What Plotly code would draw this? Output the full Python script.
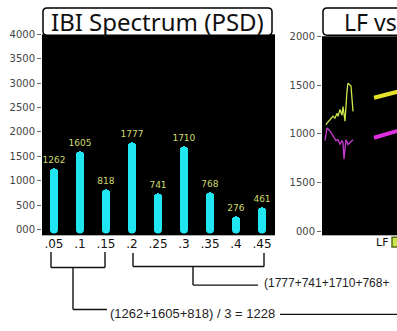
import plotly.graph_objects as go

# ---------------- data ----------------
bands = [".05", ".1", ".15", ".2", ".25", ".3", ".35", ".4", ".45"]
psd = [1262, 1605, 818, 1777, 741, 1710, 768, 276, 461]
left_tickvals = [0, 500, 1000, 1500, 2000, 2500, 3000, 3500, 4000]
left_ticktext = ["000", "500", "1000", "1500", "2000", "2500", "3000", "3500", "4000"]

lf_t = [4, 5, 11, 13, 15, 16, 18, 20, 21, 23, 25, 26, 29, 31]
lf_v = [1090, 1110, 1180, 1160, 1210, 1180, 1250, 1190, 1280, 1130, 1440, 1520, 1490, 1230]
hf_t = [3, 5, 8, 11, 14, 16, 18, 20, 21, 22, 24, 26, 30, 31]
hf_v = [930, 1060, 1030, 980, 930, 940, 890, 930, 910, 740, 940, 890, 930, 940]
lf_trend_t = [52, 76]
lf_trend_v = [1370, 1432]
hf_trend_t = [52, 76]
hf_trend_v = [960, 1032]
right_tickvals = [0, 500, 1000, 1500, 2000]
right_ticktext = ["000", "1500", "1000", "1500", "2000"]

low_text = "(1262+1605+818) / 3 = 1228"
high_text = "(1777+741+1710+768+"
right_title = "LF vs"

W, H = 397, 331


def px(x):
    return x / W


def py(y):
    return 1 - y / H


idx = list(range(len(bands)))

fig = go.Figure()
fig.add_trace(go.Bar(
    x=idx, y=psd, width=0.31,
    marker=dict(color="#1fe6f0", cornerradius=4, line=dict(width=0)),
    text=[str(v) for v in psd], textposition="outside", constraintext="none",
    textfont=dict(family="DejaVu Sans", size=9, color="#cfdc6e"),
    cliponaxis=False, xaxis="x", yaxis="y", showlegend=False,
))
fig.add_trace(go.Scatter(
    x=idx, y=[0] * len(idx), mode="markers",
    marker=dict(color="#1fe6f0", size=8, line=dict(width=0)),
    xaxis="x", yaxis="y", showlegend=False, hoverinfo="skip", cliponaxis=True,
))

fig.add_trace(go.Scatter(x=lf_t, y=lf_v, mode="lines", line=dict(color="#cde84a", width=1.3),
                         xaxis="x2", yaxis="y2", showlegend=False))
fig.add_trace(go.Scatter(x=hf_t, y=hf_v, mode="lines", line=dict(color="#c63ad0", width=1.3),
                         xaxis="x2", yaxis="y2", showlegend=False))
fig.add_trace(go.Scatter(x=lf_trend_t, y=lf_trend_v, mode="lines", line=dict(color="#e6e22a", width=4),
                         xaxis="x2", yaxis="y2", showlegend=False))
fig.add_trace(go.Scatter(x=hf_trend_t, y=hf_trend_v, mode="lines", line=dict(color="#dd2fdd", width=4),
                         xaxis="x2", yaxis="y2", showlegend=False))

tickfont = dict(family="DejaVu Sans", size=10, color="#444444")

fig.update_layout(
    width=W, height=H, margin=dict(l=0, r=0, t=0, b=0),
    paper_bgcolor="white", plot_bgcolor="black",
    bargap=0,
    xaxis=dict(domain=[px(42), px(275)], range=[-0.46, 8.5],
               tickvals=idx, ticktext=bands, ticks="", showgrid=False, zeroline=False,
               showline=False, tickfont=dict(family="DejaVu Sans", size=12, color="#111111"),
               anchor="y", fixedrange=True),
    yaxis=dict(domain=[py(235), py(29)], range=[-120, 4000],
               tickvals=left_tickvals, ticktext=left_ticktext, ticks="outside", ticklen=4,
               tickcolor="#666666", tickwidth=1, showgrid=False, zeroline=False, showline=False,
               tickfont=tickfont, anchor="x"),
    xaxis2=dict(domain=[px(322), 1], range=[0, 75], showticklabels=False, ticks="",
                showgrid=False, zeroline=False, showline=False, anchor="y2"),
    yaxis2=dict(domain=[py(235), py(31)], range=[-40, 2000],
                tickvals=right_tickvals, ticktext=right_ticktext, ticks="outside", ticklen=4,
                tickcolor="#666666", tickwidth=1, showgrid=False, zeroline=False, showline=False,
                tickfont=tickfont, anchor="x2"),
)


def rounded_box(x0, y0, x1, y1, r):
    pts = [
        ("M", x0 + r, y0), ("L", x1 - r, y0), ("Q", x1, y0, x1, y0 + r),
        ("L", x1, y1 - r), ("Q", x1, y1, x1 - r, y1), ("L", x0 + r, y1),
        ("Q", x0, y1, x0, y1 - r), ("L", x0, y0 + r), ("Q", x0, y0, x0 + r, y0),
    ]
    s = ""
    for p in pts:
        if p[0] == "Q":
            s += f"Q{px(p[1]):.5f},{py(p[2]):.5f} {px(p[3]):.5f},{py(p[4]):.5f} "
        else:
            s += f"{p[0]}{px(p[1]):.5f},{py(p[2]):.5f} "
    return s + "Z"


shapes = []
shapes.append(dict(type="path", path=rounded_box(43, 2, 272, 30, 4), xref="paper", yref="paper",
                   fillcolor="white", line=dict(color="black", width=1.5), layer="above"))
shapes.append(dict(type="path", path=rounded_box(323, 2, 560, 30, 4), xref="paper", yref="paper",
                   fillcolor="white", line=dict(color="black", width=1.5), layer="above"))


def seg(x0, y0, x1, y1, w=1.4):
    shapes.append(dict(type="line", x0=px(x0), y0=py(y0), x1=px(x1), y1=py(y1),
                       xref="paper", yref="paper", line=dict(color="#111111", width=w)))


# bracket for low band
seg(51, 252, 51, 268)
seg(105, 252, 105, 268)
seg(51, 268, 105, 268)
seg(73, 268, 73, 311)
seg(73, 311, 107, 311)
seg(280, 316, 400, 316)
# bracket for high band
seg(133, 253, 133, 267)
seg(264, 253, 264, 267)
seg(133, 267, 264, 267)
seg(193, 267, 193, 286)
seg(193, 286, 258, 286)

# legend swatch
shapes.append(dict(type="rect", x0=px(392), y0=py(237), x1=px(403), y1=py(247), xref="paper", yref="paper",
                   fillcolor="#c8e64a", line=dict(color="#556b1a", width=1.5)))

fig.update_layout(shapes=shapes)

ann = []
ann.append(dict(text="IBI Spectrum (PSD)", x=px(157.5), y=py(16), xref="paper", yref="paper",
                showarrow=False, xanchor="center", yanchor="middle",
                font=dict(family="Noto Sans", size=24, color="#111111")))
ann.append(dict(text=right_title, x=px(342), y=py(16), xref="paper", yref="paper",
                showarrow=False, xanchor="left", yanchor="middle",
                font=dict(family="Noto Sans", size=23, color="#111111")))
ann.append(dict(text=low_text, x=px(108), y=py(315), xref="paper", yref="paper",
                showarrow=False, xanchor="left", yanchor="middle",
                font=dict(family="Liberation Sans", size=13, color="#222222")))
ann.append(dict(text=high_text, x=px(262), y=py(284), xref="paper", yref="paper",
                showarrow=False, xanchor="left", yanchor="middle",
                font=dict(family="Liberation Sans", size=12, color="#222222")))
ann.append(dict(text="LF", x=px(382), y=py(242), xref="paper", yref="paper",
                showarrow=False, xanchor="center", yanchor="middle",
                font=dict(family="DejaVu Sans", size=11, color="#111111")))
fig.update_layout(annotations=ann)

fig.write_html("out.html")
